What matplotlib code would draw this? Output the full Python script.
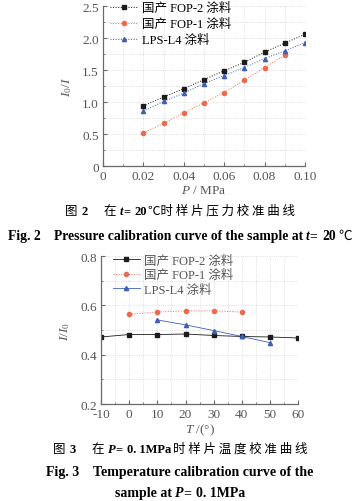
import numpy as np
import matplotlib
matplotlib.use('Agg')
import matplotlib.pyplot as plt
from matplotlib.ticker import MultipleLocator, FuncFormatter

plt.rcParams['font.family'] = ['Liberation Serif', 'Noto Sans CJK SC']
plt.rcParams['axes.unicode_minus'] = False
plt.rcParams['mathtext.fontset'] = 'custom'
plt.rcParams['mathtext.rm'] = 'Liberation Serif'
plt.rcParams['mathtext.it'] = 'Liberation Serif:italic'

# fig 2 data: pressure calibration
p_fop2 = [0.02, 0.03, 0.04, 0.05, 0.06, 0.07, 0.08, 0.09, 0.10]
i_fop2 = [0.94, 1.08, 1.21, 1.35, 1.49, 1.62, 1.78, 1.92, 2.06]
p_fop1 = [0.02, 0.03, 0.04, 0.05, 0.06, 0.07, 0.08, 0.09]
i_fop1 = [0.52, 0.67, 0.83, 0.99, 1.15, 1.34, 1.54, 1.73]
p_lps = [0.02, 0.03, 0.04, 0.05, 0.06, 0.07, 0.08, 0.09, 0.10]
i_lps = [0.86, 1.01, 1.14, 1.29, 1.415, 1.54, 1.68, 1.80, 1.93]

# fig 3 data: temperature calibration
t_fop2 = [-10, 0, 10, 20, 30, 40, 50, 60]
r_fop2 = [0.472, 0.482, 0.482, 0.484, 0.478, 0.474, 0.472, 0.468]
t_fop1 = [0, 10, 20, 30, 40]
r_fop1 = [0.564, 0.573, 0.578, 0.578, 0.573]
t_lps = [10, 20, 30, 40, 50]
r_lps = [0.541, 0.521, 0.498, 0.474, 0.449]

labels = ['国产 FOP-2 涂料', '国产 FOP-1 涂料', 'LPS-L4 涂料']
black = '#1c1c1c'
red = '#ec6a50'
blue = '#3d5fb5'
axcol = '#6a6a6a'
txtcol = '#555555'

fig = plt.figure(figsize=(3.6, 5.02), dpi=100)
renderer = fig.canvas.get_renderer()

CJK = ['Noto Sans CJK SC']
SER = ['Liberation Serif', 'Noto Sans CJK SC']


def style_axes(ax):
    for s in ['top', 'right']:
        ax.spines[s].set_visible(False)
    for s in ['left', 'bottom']:
        ax.spines[s].set_color(axcol)
        ax.spines[s].set_linewidth(0.9)
    ax.tick_params(which='both', direction='in', colors=axcol,
                   labelcolor=txtcol, labelsize=9.5, pad=3)
    ax.tick_params(which='major', length=3)
    ax.tick_params(which='minor', length=1.5)
    ax.grid(True, which='both', color='#d4d4d4', linestyle=':', linewidth=0.6)
    ax.set_axisbelow(True)


def rich_line(ypix, pieces, size):
    # pieces: (text, family, weight, style, gap after in px)
    texts = []
    total = 0
    for s, fam, wt, st, gap in pieces:
        t = fig.text(0, 1 - ypix / 502, s, family=fam, weight=wt, style=st,
                     fontsize=size, ha='left', va='baseline')
        w = t.get_window_extent(renderer).width
        texts.append((t, w, gap))
        total += w + gap
    x = (360 - total) / 2
    for t, w, gap in texts:
        t.set_x(x / 360)
        x += w + gap


# ---- Fig. 2 ----
ax1 = fig.add_axes([0.286, 0.667, 0.561, 0.319])
ax1.plot(p_fop2, i_fop2, ':', color=black, lw=0.7, marker='s', ms=3.2, label=labels[0])
ax1.plot(p_fop1, i_fop1, ':', color=red, lw=0.7, marker='o', ms=3.0, label=labels[1])
ax1.plot(p_lps, i_lps, ':', color=blue, lw=0.7, marker='^', ms=3.0, label=labels[2])
ax1.set_xlim(0, 0.10)
ax1.set_ylim(0, 2.5)
ax1.xaxis.set_major_locator(MultipleLocator(0.02))
ax1.xaxis.set_minor_locator(MultipleLocator(0.01))
ax1.yaxis.set_major_locator(MultipleLocator(0.5))
ax1.yaxis.set_minor_locator(MultipleLocator(0.25))
ax1.xaxis.set_major_formatter(FuncFormatter(lambda v, p: '0' if abs(v) < 1e-9 else '%.2f' % v))
ax1.yaxis.set_major_formatter(FuncFormatter(lambda v, p: '0' if abs(v) < 1e-9 else '%.1f' % v))
style_axes(ax1)
ax1.set_xlabel(r'$P$ / MPa', fontsize=9.5, color=txtcol, labelpad=1)
ax1.set_ylabel(r'$I_0/I$', fontsize=9.5, color=txtcol, labelpad=6)
ax1.legend(loc='upper left', bbox_to_anchor=(0.0, 1.07), frameon=False,
           fontsize=9, handlelength=2.2, handletextpad=0.3,
           labelspacing=0.3, borderaxespad=0.2)

rich_line(215, [('图', CJK, 'normal', 'normal', 4),
                ('2', SER, 'bold', 'normal', 16),
                ('在', CJK, 'normal', 'normal', 4),
                ('t', SER, 'bold', 'italic', 0),
                ('=', SER, 'bold', 'normal', 4),
                ('20', SER, 'bold', 'normal', 1),
                ('℃时 样 片 压 力 校 准 曲 线', CJK, 'normal', 'normal', 0)], 9)
rich_line(240, [('Fig. 2', SER, 'bold', 'normal', 13),
                ('Pressure calibration curve of the sample at', SER, 'bold', 'normal', 3),
                ('t', SER, 'bold', 'italic', 0),
                ('=', SER, 'bold', 'normal', 5),
                ('20', SER, 'bold', 'normal', 2),
                ('℃', CJK, 'normal', 'normal', 0)], 9.8)

# ---- Fig. 3 ----
ax2 = fig.add_axes([0.281, 0.193, 0.547, 0.295])
ax2.plot(t_fop2, r_fop2, '-', color=black, lw=0.6, marker='s', ms=3.0, label=labels[0])
ax2.plot(t_fop1, r_fop1, ':', color=red, lw=0.7, marker='o', ms=3.0, label=labels[1])
ax2.plot(t_lps, r_lps, '-', color=blue, lw=0.6, marker='^', ms=3.0, label=labels[2])
ax2.set_xlim(-10, 60)
ax2.set_ylim(0.2, 0.8)
ax2.xaxis.set_major_locator(MultipleLocator(10))
ax2.xaxis.set_minor_locator(MultipleLocator(5))
ax2.yaxis.set_major_locator(MultipleLocator(0.2))
ax2.yaxis.set_minor_locator(MultipleLocator(0.1))
ax2.yaxis.set_major_formatter(FuncFormatter(lambda v, p: '%.1f' % v))
style_axes(ax2)
ax2.set_xlabel(r'$T$ /(°)', fontsize=9.5, color=txtcol, labelpad=1)
ax2.set_ylabel(r'$I/I_0$', fontsize=9.5, color=txtcol, labelpad=6)
leg = ax2.legend(loc='upper left', bbox_to_anchor=(0.02, 1.06), frameon=False,
                 fontsize=9, handlelength=2.2, handletextpad=0.3,
                 labelspacing=0.2, borderaxespad=0.2)
for t in leg.get_texts():
    t.set_color(txtcol)

rich_line(453, [('图', CJK, 'normal', 'normal', 4),
                ('3', SER, 'bold', 'normal', 16),
                ('在', CJK, 'normal', 'normal', 4),
                ('P', SER, 'bold', 'italic', 0),
                ('=', SER, 'bold', 'normal', 4),
                ('0. 1MPa', SER, 'bold', 'normal', 2),
                ('时 样 片 温 度 校 准 曲 线', CJK, 'normal', 'normal', 0)], 9)
rich_line(476, [('Fig. 3', SER, 'bold', 'normal', 14),
                ('Temperature calibration curve of the', SER, 'bold', 'normal', 0)], 10)
rich_line(497, [('sample at', SER, 'bold', 'normal', 3),
                ('P', SER, 'bold', 'italic', 0),
                ('=', SER, 'bold', 'normal', 5),
                ('0. 1MPa', SER, 'bold', 'normal', 0)], 10)

fig.savefig('out.png', dpi=100)
